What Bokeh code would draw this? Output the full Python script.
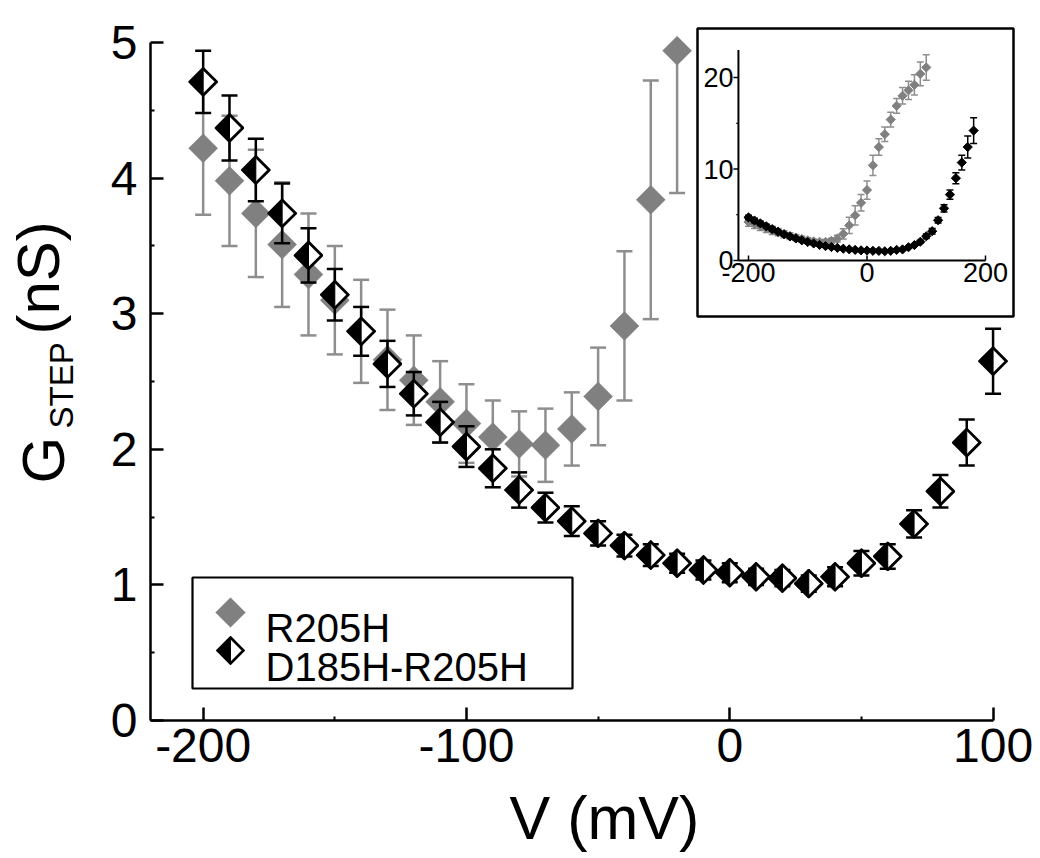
import base64
import numpy as np
from bokeh.plotting import figure
from bokeh.models import (Range1d, FixedTicker, ColumnDataSource, BoxAnnotation, Label, Title,
                          LinearAxis)
from bokeh.core.properties import value
from bokeh.embed import file_html
from bokeh.resources import INLINE

# ---------------- data ----------------
GRAY_NAME = "R205H"
BLACK_NAME = "D185H-R205H"

GRAY_V = [-200, -190, -180, -170, -160, -150, -140, -130, -120, -110,
          -100, -90, -80, -70, -60, -50, -40, -30, -20]
GRAY_G = [4.22, 3.98, 3.74, 3.51, 3.29, 3.10, 2.87, 2.66, 2.51, 2.35,
          2.19, 2.09, 2.04, 2.03, 2.15, 2.39, 2.91, 3.84, 4.94]
GRAY_E = [0.49, 0.48, 0.47, 0.46, 0.45, 0.40, 0.38, 0.37, 0.33, 0.30,
          0.29, 0.27, 0.24, 0.27, 0.27, 0.36, 0.55, 0.88, 1.05]

BLACK_V = [-200, -190, -180, -170, -160, -150, -140, -130, -120, -110,
           -100, -90, -80, -70, -60, -50, -40, -30, -20, -10,
           0, 10, 20, 30, 40, 50, 60, 70, 80, 90, 100]
BLACK_G = [4.71, 4.37, 4.06, 3.74, 3.43, 3.14, 2.87, 2.63, 2.41, 2.20,
           2.02, 1.86, 1.70, 1.57, 1.47, 1.38, 1.29, 1.22, 1.16, 1.11,
           1.09, 1.06, 1.05, 1.01, 1.06, 1.16, 1.21, 1.45, 1.69, 2.05, 2.65]
BLACK_E = [0.23, 0.24, 0.23, 0.22, 0.20, 0.19, 0.18, 0.17, 0.16, 0.15,
           0.15, 0.14, 0.13, 0.11, 0.11, 0.09, 0.08, 0.08, 0.07, 0.07,
           0.07, 0.06, 0.06, 0.06, 0.07, 0.09, 0.09, 0.10, 0.12, 0.17, 0.24]

# inset: full voltage range (continuation beyond the main panel)
INSET_GRAY_V_EXTRA = [-10, 0, 10, 20, 30, 40, 50, 60, 70, 80, 90, 100]
INSET_GRAY_G_EXTRA = [6.3, 7.7, 10.4, 12.4, 13.8, 15.4, 16.9, 18.0, 18.6, 19.2, 20.4, 21.1]
INSET_GRAY_E_EXTRA = [0.9, 1.0, 1.1, 0.9, 0.8, 0.8, 0.8, 0.9, 1.0, 1.1, 1.3, 1.4]
INSET_BLACK_V_EXTRA = [110, 120, 130, 140, 150, 160, 170, 180]
INSET_BLACK_G_EXTRA = [3.2, 4.4, 5.7, 7.2, 9.0, 10.7, 12.4, 14.2]
INSET_BLACK_E_EXTRA = [0.3, 0.3, 0.4, 0.5, 0.6, 0.8, 1.2, 1.4]

X_TICKS = [-200, -100, 0, 100]
X_MINOR = [-150, -50, 50]
Y_TICKS = [0, 1, 2, 3, 4, 5]
Y_MINOR = [0.5, 1.5, 2.5, 3.5, 4.5]
INSET_X_TICKS = [-200, 0, 200]
INSET_Y_TICKS = [0, 10, 20]
INSET_Y_MINOR = [5, 15]

X_TITLE = "V (mV)"
Y_TITLE_MAIN = "G"
Y_TITLE_SUB = "STEP"
Y_TITLE_UNIT = "(nS)"

# ---------------- styling / layout ----------------
FONT = "Liberation Sans"
GRAY = "#808080"
GRAY_BAR = "#8e8e8e"
W, H = 1040, 858
FL, FR, FT, FB = 150, 1016, 24, 720          # frame edges in pixels
X_START, X_END = -220.0, 108.9
Y_START, Y_END = 0.0, 5.133
X_BOUNDS = (-220, 100)
Y_BOUNDS = (0, 5)

# inset axis placement (pixels) -> extra ranges
IN_XV0, IN_XP0, IN_XV1, IN_XP1 = -200, 748.0, 200, 985.0
IN_YV0, IN_YP0, IN_YV1, IN_YP1 = 0, 260.0, 20, 77.0
IN_X_AXIS_START, IN_X_AXIS_END = -217, 200
IN_Y_AXIS_TOP = 23.0

p = figure(width=W, height=H, output_backend="svg", toolbar_location=None,
           x_range=Range1d(X_START, X_END), y_range=Range1d(Y_START, Y_END),
           min_border_left=FL, min_border_right=W - FR,
           min_border_top=FT, min_border_bottom=H - FB)
p.outline_line_color = None
p.grid.visible = False
p.background_fill_color = "white"
p.border_fill_color = "white"

for ax in (p.xaxis[0], p.yaxis[0]):
    ax.axis_line_width = 2.5
    ax.axis_line_color = "black"
    ax.major_tick_line_width = 2.5
    ax.major_tick_line_color = "black"
    ax.major_tick_in = 13
    ax.major_tick_out = 0
    ax.minor_tick_line_width = 2
    ax.minor_tick_line_color = "black"
    ax.minor_tick_in = 4
    ax.minor_tick_out = 0
    ax.major_label_text_font = FONT
    ax.major_label_text_font_size = "48px"
    ax.major_label_text_color = "black"
p.xaxis[0].ticker = FixedTicker(ticks=X_TICKS, minor_ticks=X_MINOR)
p.yaxis[0].ticker = FixedTicker(ticks=Y_TICKS, minor_ticks=Y_MINOR)
p.xaxis[0].major_label_overrides = {t: str(t) for t in X_TICKS}
p.yaxis[0].major_label_overrides = {t: str(t) for t in Y_TICKS}
p.xaxis[0].bounds = X_BOUNDS
p.yaxis[0].bounds = Y_BOUNDS
p.xaxis[0].major_label_standoff = 8
p.yaxis[0].major_label_standoff = 13

# ---- y title: G + subscript STEP + (nS), built from left-side panels ----
spacer = LinearAxis(ticker=FixedTicker(ticks=[0], minor_ticks=[]),
                    major_label_overrides={0: ""}, major_label_text_font_size="1px",
                    major_label_standoff=0, axis_line_color=None,
                    major_tick_line_color=None, minor_tick_line_color=None,
                    major_tick_in=0, major_tick_out=31, minor_tick_in=0, minor_tick_out=0)
p.add_layout(spacer, "left")
p.add_layout(Title(text=Y_TITLE_SUB, align="left", offset=720 - 428, vertical_align="middle",
                   standoff=-8, text_font=FONT, text_font_size="33px",
                   text_font_style="normal", text_color="black"), "left")
for txt, off in ((Y_TITLE_MAIN, 720 - 483), (Y_TITLE_UNIT, 720 - 334)):
    p.add_layout(Title(text=txt, align="left", offset=off, vertical_align="middle",
                       standoff=-64, text_font=FONT, text_font_size="60px",
                       text_font_style="normal", text_color="black"), "left")

# x title
p.add_layout(Title(text=X_TITLE, align="left", offset=359, vertical_align="top",
                   standoff=0, padding=dict(left=0, right=0, top=19, bottom=0),
                   text_font=FONT, text_font_size="61px",
                   text_font_style="normal", text_color="black"), "below")

# ---------------- marker image (half-filled diamond) ----------------
svg = ("<svg xmlns='http://www.w3.org/2000/svg' width='60' height='60' viewBox='0 0 30 30'>"
       "<polygon points='15,1.6 28.4,15 15,28.4 1.6,15' fill='white' stroke='black' "
       "stroke-width='2.8' stroke-linejoin='miter'/>"
       "<polygon points='15,1.6 1.6,15 15,28.4' fill='black' stroke='black' stroke-width='1'/></svg>")
HALF_DIAMOND = "data:image/svg+xml;base64," + base64.b64encode(svg.encode()).decode()


def error_bars(v, g, e, color, width, cap, ymax=None, **kw):
    v = np.asarray(v, float); g = np.asarray(g, float); e = np.asarray(e, float)
    lo = g - e
    hi_raw = g + e
    if ymax is not None:
        hi = np.minimum(hi_raw, ymax)
        cap_hi = np.where(hi_raw <= ymax, hi_raw, np.nan)
    else:
        hi = hi_raw
        cap_hi = hi_raw
    p.segment(x0=v, y0=lo, x1=v, y1=hi, line_color=color, line_width=width, **kw)
    p.scatter(x=np.concatenate([v, v]), y=np.concatenate([lo, cap_hi]), marker="dash",
              size=cap, line_color=color, line_width=width, **kw)


# ---------------- inset frame ----------------
p.add_layout(BoxAnnotation(left=697 - FL, right=1013 - FL, top=FB - 28, bottom=FB - 316,
                           left_units="screen", right_units="screen",
                           top_units="screen", bottom_units="screen",
                           fill_color="white", fill_alpha=1.0,
                           line_color="black", line_alpha=1.0, line_width=2.5,
                           level="underlay"))

# ---------------- main data ----------------
error_bars(GRAY_V, GRAY_G, GRAY_E, GRAY_BAR, 2.5, 16, ymax=Y_BOUNDS[1])
p.scatter(x=GRAY_V, y=GRAY_G, marker="square", angle=np.pi / 4, size=20.5,
          fill_color=GRAY, line_color=GRAY, line_width=0.5)

error_bars(BLACK_V, BLACK_G, BLACK_E, "black", 2.5, 16, ymax=Y_BOUNDS[1])
bsrc = ColumnDataSource(dict(v=BLACK_V, g=BLACK_G, url=[HALF_DIAMOND] * len(BLACK_V)))
p.image_url(url="url", x="v", y="g", w=30, h=30, w_units="screen", h_units="screen",
            anchor="center", source=bsrc)

# ---------------- inset ----------------
sx_in = (IN_XP1 - IN_XP0) / (IN_XV1 - IN_XV0)
sy_in = (IN_YP0 - IN_YP1) / (IN_YV1 - IN_YV0)
p.extra_x_ranges = {"ix": Range1d(IN_XV0 - (IN_XP0 - FL) / sx_in, IN_XV0 + (FR - IN_XP0) / sx_in)}
p.extra_y_ranges = {"iy": Range1d(IN_YV0 - (FB - IN_YP0) / sy_in, IN_YV0 + (IN_YP0 - FT) / sy_in)}
IK = dict(x_range_name="ix", y_range_name="iy")

# inset axes
p.segment(x0=[IN_X_AXIS_START, IN_X_AXIS_START], y0=[0, 0],
          x1=[IN_X_AXIS_START, IN_X_AXIS_END], y1=[IN_Y_AXIS_TOP, 0],
          line_color="black", line_width=2, **IK)
tick_dx = 5 / sx_in
tick_dy = 5 / sy_in
p.segment(x0=[IN_X_AXIS_START] * len(INSET_Y_TICKS), y0=INSET_Y_TICKS,
          x1=[IN_X_AXIS_START - tick_dx] * len(INSET_Y_TICKS), y1=INSET_Y_TICKS,
          line_color="black", line_width=1.5, **IK)
p.segment(x0=[IN_X_AXIS_START] * len(INSET_Y_MINOR), y0=INSET_Y_MINOR,
          x1=[IN_X_AXIS_START - tick_dx * 0.5] * len(INSET_Y_MINOR), y1=INSET_Y_MINOR,
          line_color="black", line_width=1.2, **IK)
p.segment(x0=INSET_X_TICKS, y0=[0] * len(INSET_X_TICKS),
          x1=INSET_X_TICKS, y1=[tick_dy] * len(INSET_X_TICKS),
          line_color="black", line_width=1.5, **IK)
p.text(x=[IN_X_AXIS_START] * len(INSET_Y_TICKS), y=INSET_Y_TICKS,
       text=[str(t) for t in INSET_Y_TICKS], text_font=value(FONT), text_font_size="27px",
       text_align="right", text_baseline="middle", x_offset=-5, text_color="black", **IK)
p.text(x=INSET_X_TICKS, y=[0] * len(INSET_X_TICKS),
       text=[str(t) for t in INSET_X_TICKS], text_font=value(FONT), text_font_size="27px",
       text_align="center", text_baseline="top", y_offset=2, text_color="black", **IK)

ig_v = GRAY_V + INSET_GRAY_V_EXTRA
ig_g = GRAY_G + INSET_GRAY_G_EXTRA
ig_e = GRAY_E + INSET_GRAY_E_EXTRA
ib_v = BLACK_V + INSET_BLACK_V_EXTRA
ib_g = BLACK_G + INSET_BLACK_G_EXTRA
ib_e = BLACK_E + INSET_BLACK_E_EXTRA
error_bars(ig_v, ig_g, ig_e, GRAY_BAR, 1.5, 7, **IK)
p.scatter(x=ig_v, y=ig_g, marker="square", angle=np.pi / 4, size=6.5,
          fill_color=GRAY, line_color=GRAY, **IK)
error_bars(ib_v, ib_g, ib_e, "black", 1.5, 7, **IK)
p.scatter(x=ib_v, y=ib_g, marker="square", angle=np.pi / 4, size=6.5,
          fill_color="black", line_color="black", **IK)

# ---------------- legend (manual) ----------------
sx_main = (FR - FL) / (X_END - X_START)
sy_main = (FB - FT) / (Y_END - Y_START)


def px_to_data(px, py):
    return X_START + (px - FL) / sx_main, Y_START + (FB - py) / sy_main


p.add_layout(BoxAnnotation(left=192 - FL, right=572 - FL, top=FB - 577, bottom=FB - 688,
                           left_units="screen", right_units="screen",
                           top_units="screen", bottom_units="screen",
                           fill_alpha=0.0, line_color="black", line_alpha=1.0, line_width=2.2))
lx, ly1 = px_to_data(230, 612)
_, ly2 = px_to_data(230, 650)
p.scatter(x=[lx], y=[ly1], marker="square", angle=np.pi / 4, size=21,
          fill_color=GRAY, line_color=GRAY, line_width=0.5)
p.image_url(url=[HALF_DIAMOND], x=[lx], y=[ly2], w=29, h=29, w_units="screen",
            h_units="screen", anchor="center")
for txt, base in ((GRAY_NAME, 627), (BLACK_NAME, 666)):
    p.add_layout(Label(x=265 - FL, y=FB - base, x_units="screen", y_units="screen",
                       text=txt, text_font=FONT, text_font_size="40px",
                       text_color="black", text_baseline="alphabetic", text_align="left"))

open("out.html", "w").write(file_html(p, INLINE))
